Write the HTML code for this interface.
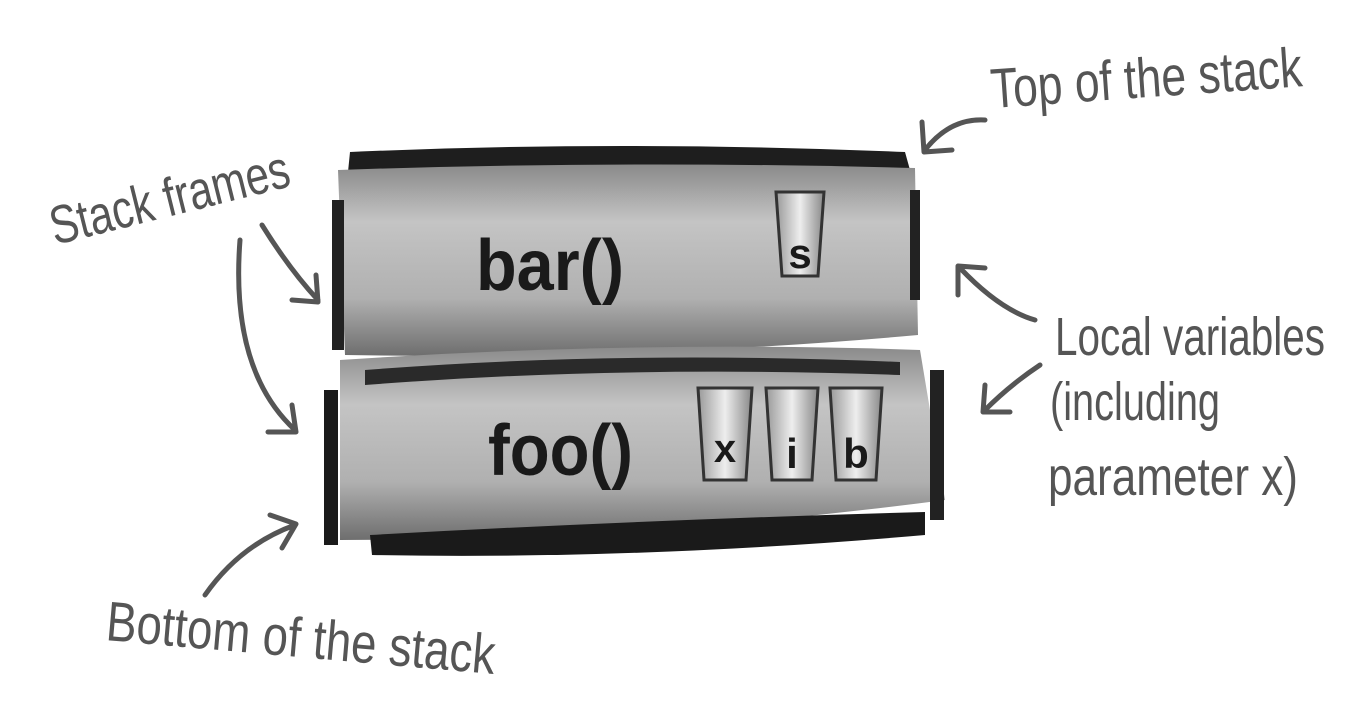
<!DOCTYPE html>
<html><head><meta charset="utf-8"><style>
html,body{margin:0;padding:0;background:#fff;width:1356px;height:713px;overflow:hidden}
svg{display:block}
.h{font-family:"Liberation Sans Narrow","Liberation Sans",sans-serif;fill:#555}
.b{font-family:"Liberation Sans",sans-serif;font-weight:bold;fill:#1a1a1a}
.ar{fill:none;stroke:#555;stroke-width:5;stroke-linecap:round;stroke-linejoin:round}
</style></head><body>
<svg width="1356" height="713" viewBox="0 0 1356 713">
<defs>
<linearGradient id="g1" x1="0" y1="0" x2="0" y2="1">
<stop offset="0" stop-color="#8a8a8a"/><stop offset="0.3" stop-color="#c4c4c4"/><stop offset="0.7" stop-color="#b0b0b0"/><stop offset="1" stop-color="#6e6e6e"/></linearGradient>
<linearGradient id="cup" x1="0" y1="0" x2="1" y2="0">
<stop offset="0" stop-color="#999"/><stop offset="0.5" stop-color="#eee"/><stop offset="1" stop-color="#888"/></linearGradient>
</defs>
<!-- top frame -->
<g>
<path d="M350 152 Q620 140 905 152 L910 170 L348 172 Z" fill="#1e1e1e"/>
<path d="M338 170 Q620 160 915 168 L918 335 Q640 360 345 355 Z" fill="url(#g1)"/>
<rect x="332" y="200" width="12" height="150" fill="#222"/>
<rect x="910" y="190" width="10" height="110" fill="#222"/>
<text class="b" x="476" y="290" font-size="72" textLength="148" lengthAdjust="spacingAndGlyphs">bar()</text>
<g>
<path d="M776 192 L824 192 L818 276 L782 276 Z" fill="url(#cup)" stroke="#333" stroke-width="3"/>
<text class="b" x="800" y="268" font-size="42" text-anchor="middle">s</text></g>
</g>
<!-- bottom frame -->
<g>
<path d="M340 360 Q640 340 920 350 L945 500 Q640 540 340 540 Z" fill="url(#g1)"/>
<path d="M365 370 Q620 350 900 362 L900 375 Q620 365 365 385 Z" fill="#2a2a2a"/>
<path d="M370 535 Q640 520 925 512 L925 535 Q640 560 372 555 Z" fill="#1a1a1a"/>
<rect x="324" y="390" width="14" height="155" fill="#1a1a1a"/>
<rect x="930" y="370" width="14" height="150" fill="#222"/>
<text class="b" x="488" y="475" font-size="72" textLength="145" lengthAdjust="spacingAndGlyphs">foo()</text>
<g>
<path d="M698 388 L752 388 L746 480 L704 480 Z" fill="url(#cup)" stroke="#333" stroke-width="3"/>
<text class="b" x="725" y="462" font-size="40" text-anchor="middle">x</text></g>
<g>
<path d="M766 388 L818 388 L812 480 L772 480 Z" fill="url(#cup)" stroke="#333" stroke-width="3"/>
<text class="b" x="792" y="468" font-size="42" text-anchor="middle">i</text></g>
<g>
<path d="M830 388 L882 388 L876 480 L836 480 Z" fill="url(#cup)" stroke="#333" stroke-width="3"/>
<text class="b" x="856" y="468" font-size="42" text-anchor="middle">b</text></g>
</g>
<!-- annotations -->
<text class="h" x="992" y="108" font-size="56" textLength="312" lengthAdjust="spacingAndGlyphs" transform="rotate(-4 992 108)">Top of the stack</text>
<path class="ar" d="M985 120 Q950 118 925 150 M922 122 L924 152 L952 150"/>
<text class="h" x="55" y="245" font-size="54" textLength="245" lengthAdjust="spacingAndGlyphs" transform="rotate(-14 55 245)">Stack frames</text>
<path class="ar" d="M262 225 Q290 270 318 300 M292 300 L318 302 L316 275"/>
<path class="ar" d="M240 240 Q230 370 295 430 M268 432 L296 432 L292 405"/>
<text class="h" x="1055" y="355" font-size="54" textLength="270" lengthAdjust="spacingAndGlyphs">Local variables</text>
<text class="h" x="1050" y="420" font-size="54" textLength="170" lengthAdjust="spacingAndGlyphs">(including</text>
<text class="h" x="1048" y="495" font-size="54" textLength="250" lengthAdjust="spacingAndGlyphs">parameter x)</text>
<path class="ar" d="M1035 320 Q1000 310 960 268 M958 295 L958 266 L985 268"/>
<path class="ar" d="M1040 365 Q1010 385 985 410 M985 385 L983 412 L1010 412"/>
<text class="h" x="105" y="640" font-size="56" textLength="390" lengthAdjust="spacingAndGlyphs" transform="rotate(5 105 640)">Bottom of the stack</text>
<path class="ar" d="M205 595 Q240 545 295 525 M270 515 L296 524 L282 548"/>
</svg>
</body></html>
